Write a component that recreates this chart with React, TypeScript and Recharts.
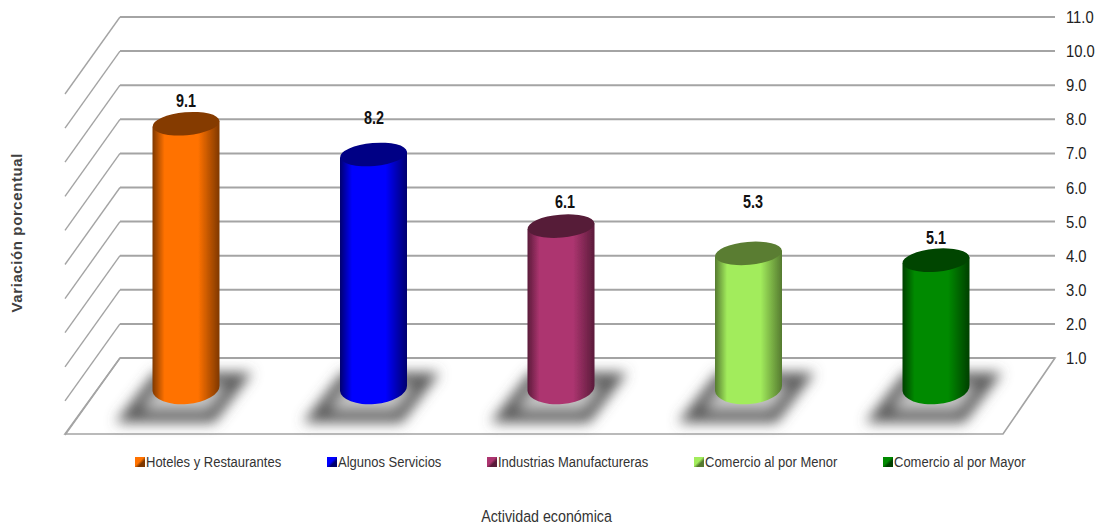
import React from 'react';
import { BarChart, Bar, XAxis, YAxis, CartesianGrid, Cell, Legend, LabelList } from 'recharts';

const categories = ['Hoteles y Restaurantes', 'Algunos Servicios', 'Industrias Manufactureras', 'Comercio al por Menor', 'Comercio al por Mayor'];
const values = [9.1, 8.2, 6.1, 5.3, 5.1];
const tickValues = [1, 2, 3, 4, 5, 6, 7, 8, 9, 10, 11];
const bright = ['#ff7200', '#0000ff', '#ad3570', '#a2ec5c', '#008a00'];
const dark = ['#7f3800', '#00006e', '#5a1c3a', '#557a30', '#004000'];
const cap = ['#853a00', '#000085', '#561b38', '#5a7d32', '#004500'];
const labelLift = [23, 36, 24, 51, 22];
const labelShift = [0, 1, 5, 6, 2];
const legendWidths = [135, 103, 150, 132, 131];

const data = categories.map((name, i) => ({ name, value: values[i] }));

const FONT = '"Liberation Sans", Arial, sans-serif';
const WALL_DX = -55;
const WALL_DY = 77;
const BAR_DX = -27.5;
const BAR_DX_STEP = 0.5;
const BAR_TOP_DY = 42;
const BAR_BOTTOM_DY = 30;
const GRID = '#a4a4a4';

const GridLine = (props: any) => {
  const { x1, x2, y1, y2 } = props;
  const isFloor = Math.abs(y1 - 358) < 2;
  return (
    <g>
      {isFloor && (
        <polygon
          points={`${x1},${y1} ${x2},${y2} ${x2 + WALL_DX + 3},${y1 + WALL_DY - 1} ${x1 + WALL_DX},${y1 + WALL_DY - 1}`}
          fill="#ffffff"
          stroke={GRID}
          strokeWidth={1.6}
        />
      )}
      <line x1={x1} y1={y1} x2={x1 + WALL_DX} y2={y1 + WALL_DY} stroke={GRID} strokeWidth={1.4} />
      <line x1={x1} y1={y1} x2={x2} y2={y2} stroke={GRID} strokeWidth={2} />
    </g>
  );
};

const Cylinder = (props: any) => {
  const { x, y, width, height, index } = props;
  const left = x + BAR_DX + index * BAR_DX_STEP;
  const right = left + width;
  const cx = (left + right) / 2;
  const rx = width / 2;
  const tilt = -5;
  const slope = rx * Math.sin((5 * Math.PI) / 180);
  const topY = y + BAR_TOP_DY;
  const botY = y + height + BAR_BOTTOM_DY;
  return (
    <g>
      <path
        d={`M ${cx - 57} 416 L ${cx + 25} 416 L ${cx + 53} 379 L ${cx - 28} 379 Z`}
        fill="#c8c8c8"
        stroke="#585858"
        strokeWidth={13}
        filter="url(#shadowBlur)"
      />
      <g filter="url(#softEdge)">
        <path
          d={`M ${left} ${topY + slope} L ${left} ${botY + slope} A ${rx} 16 ${tilt} 0 0 ${right} ${botY - slope} L ${right} ${topY - slope} Z`}
          fill={`url(#body${index})`}
        />
        <ellipse cx={cx} cy={topY} rx={rx} ry={11.5} fill={cap[index]} transform={`rotate(${tilt} ${cx} ${topY})`} />
      </g>
    </g>
  );
};

const ValueLabel = (props: any) => {
  const { x, y, width, value, index } = props;
  const px = x + BAR_DX + width / 2 + labelShift[index];
  const py = y + BAR_TOP_DY - labelLift[index] + 6;
  return (
    <text
      transform={`translate(${px} ${py}) scale(0.8 1)`}
      textAnchor="middle"
      fontFamily={FONT}
      fontWeight="bold"
      fontSize={18}
      fill="#111"
    >
      {Number(value).toFixed(1)}
    </text>
  );
};

const AxisTick = (props: any) => {
  const { x, y, payload } = props;
  return (
    <text
      transform={`translate(${x} ${y + 6}) scale(0.87 1)`}
      textAnchor="start"
      fontFamily={FONT}
      fontSize={17}
      fill="#222"
    >
      {Number(payload.value).toFixed(1)}
    </text>
  );
};

const XTitle = (props: any) => {
  const { viewBox } = props;
  const px = viewBox.x + viewBox.width / 2 - 41;
  return (
    <text transform={`translate(${px} 522) scale(0.865 1)`} textAnchor="middle" fontFamily={FONT} fontSize={16.5} fill="#333">
      Actividad económica
    </text>
  );
};

const LegendRow = () => (
  <div style={{ display: 'flex', whiteSpace: 'nowrap', alignItems: 'center', height: 16 }}>
    {categories.map((name, i) => (
      <div key={name} style={{ display: 'flex', alignItems: 'center', marginRight: 46 }}>
        <span style={{ width: 10, height: 10, marginRight: 1, display: 'inline-block', background: `linear-gradient(135deg, ${bright[i]} 45%, ${dark[i]} 65%)` }} />
        <svg width={legendWidths[i]} height={18} style={{ display: 'block', overflow: 'visible' }}>
          <text transform="translate(0 14) scale(0.84 1)" fontFamily={FONT} fontSize={15.5} fill="#333">{name}</text>
        </svg>
      </div>
    ))}
  </div>
);

export default function App() {
  return (
    <div style={{ position: 'absolute', left: 0, top: 0, width: 1099, height: 525, background: '#fff' }}>
      <BarChart width={1099} height={525} data={data} margin={{ top: 17, right: 0, bottom: 0, left: 0 }} barCategoryGap={0}>
        <defs>
          <filter id="shadowBlur" x="-30%" y="-60%" width="160%" height="220%">
            <feGaussianBlur stdDeviation="6.5" />
          </filter>
          <filter id="softEdge" x="-5%" y="-5%" width="110%" height="110%">
            <feGaussianBlur stdDeviation="0.6" />
          </filter>
          {values.map((_, i) => (
            <linearGradient key={i} id={`body${i}`} x1="0" x2="1" y1="0" y2="0">
              <stop offset="0" stopColor={dark[i]} />
              <stop offset="0.18" stopColor={bright[i]} />
              <stop offset="0.68" stopColor={bright[i]} />
              <stop offset="1" stopColor={dark[i]} />
            </linearGradient>
          ))}
        </defs>
        <CartesianGrid vertical={false} horizontal={GridLine as any} horizontalValues={tickValues} syncWithTicks />
        <XAxis
          dataKey="name"
          height={167}
          tick={false}
          tickLine={false}
          axisLine={false}
          label={{ content: XTitle as any }}
        />
        <YAxis
          yAxisId="title"
          orientation="left"
          width={120}
          tick={false}
          tickLine={false}
          axisLine={false}
          label={{ value: 'Variación porcentual', angle: -90, position: 'insideLeft', offset: 0, dx: 17, dy: 125, fontFamily: FONT, fontWeight: 'bold', fontSize: 15, letterSpacing: 0.6, fill: '#404040' }}
        />
        <YAxis
          orientation="right"
          width={44}
          domain={[1, 11]}
          ticks={tickValues}
          interval={0}
          tickLine={false}
          axisLine={false}
          tickMargin={5}
          tick={AxisTick as any}
        />
        <Legend
          layout="horizontal"
          verticalAlign="middle"
          align="center"
          content={LegendRow as any}
          wrapperStyle={{ position: 'absolute', left: 135, top: 454, width: 960, margin: 0 }}
        />
        <Bar dataKey="value" barSize={67} isAnimationActive={false} shape={Cylinder as any}>
          {values.map((_, i) => (
            <Cell key={i} fill={bright[i]} />
          ))}
          <LabelList dataKey="value" content={ValueLabel as any} />
        </Bar>
      </BarChart>
    </div>
  );
}
